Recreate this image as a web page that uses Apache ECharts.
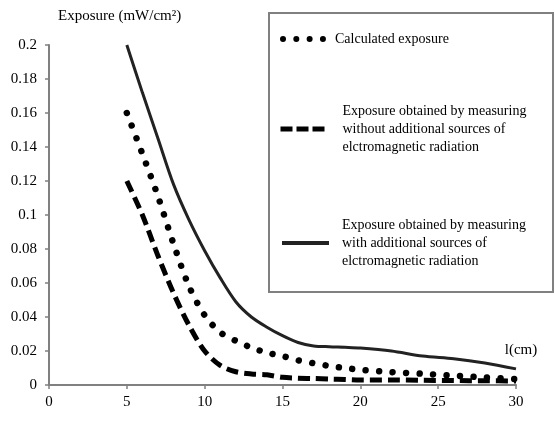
<!DOCTYPE html>
<html>
<head>
<meta charset="utf-8">
<script src="https://cdn.jsdelivr.net/npm/echarts@6/dist/echarts.min.js"></script>
<style>
  html, body { margin: 0; padding: 0; background: #fff; }
  #chart { width: 555px; height: 421px; }
</style>
</head>
<body>
<div id="chart"></div>
<script>
// distance l (cm)
const distances = [5, 6, 7, 8, 9, 10, 11, 12, 13, 14, 15, 16, 17, 18, 19, 20, 22, 24, 26, 28, 30];
// exposure (mW/cm2)
const calculated = [0.16, 0.136, 0.111, 0.083, 0.058, 0.041, 0.031, 0.026, 0.022, 0.019, 0.017, 0.0145, 0.0128, 0.0112, 0.010, 0.009, 0.0076, 0.0066, 0.0055, 0.0045, 0.0035];
const measuredWithout = [0.12, 0.1, 0.076, 0.054, 0.035, 0.02, 0.0115, 0.0078, 0.0065, 0.006, 0.0045, 0.004, 0.0038, 0.0035, 0.0033, 0.003, 0.003, 0.0028, 0.0026, 0.0025, 0.0024];
const measuredWith = [0.2, 0.172, 0.145, 0.118, 0.097, 0.079, 0.063, 0.049, 0.040, 0.034, 0.029, 0.025, 0.023, 0.0225, 0.0222, 0.0218, 0.020, 0.017, 0.0155, 0.013, 0.0095];

const seriesNames = [
  'Calculated exposure',
  'Exposure obtained by measuring\nwithout additional sources of\nelctromagnetic radiation',
  'Exposure obtained by measuring\nwith additional sources of\nelctromagnetic radiation'
];

const FONT = 'Liberation Serif';
const chart = echarts.init(document.getElementById('chart'), null, { renderer: 'canvas' });

const pairs = vals => distances.map((d, i) => [d, vals[i]]);

const legendText = { fontFamily: FONT, fontSize: 14, color: '#000', lineHeight: 18 };

chart.setOption({
  animation: false,
  backgroundColor: '#fff',
  grid: { left: 49, right: 39, top: 45, bottom: 36 },
  xAxis: {
    type: 'value',
    min: 0,
    max: 30,
    interval: 5,
    name: 'l(cm)',
    nameLocation: 'end',
    nameGap: 5,
    nameTextStyle: {
      fontFamily: FONT, fontSize: 15, color: '#000',
      align: 'center', verticalAlign: 'bottom', padding: [0, 0, 27, 0]
    },
    axisLine: { show: true, lineStyle: { color: '#808080', width: 2 } },
    axisTick: { show: true, length: 4, lineStyle: { color: '#808080', width: 1.5 } },
    axisLabel: { fontFamily: FONT, fontSize: 15, color: '#000', margin: 10 },
    splitLine: { show: false }
  },
  yAxis: {
    type: 'value',
    min: 0,
    max: 0.2,
    interval: 0.02,
    name: 'Exposure (mW/cm²)',
    nameLocation: 'end',
    nameGap: 21,
    nameTextStyle: {
      fontFamily: FONT, fontSize: 15, color: '#000',
      align: 'left', padding: [0, 0, 0, 9]
    },
    axisLine: { show: true, lineStyle: { color: '#808080', width: 2 } },
    axisTick: { show: true, length: 4, lineStyle: { color: '#808080', width: 1.5 } },
    axisLabel: { fontFamily: FONT, fontSize: 15, color: '#000', margin: 12 },
    splitLine: { show: false }
  },
  legend: [
    {
      data: [seriesNames[0]],
      left: 280, top: 30, padding: 0,
      itemWidth: 47, itemHeight: 14,
      selectedMode: false,
      textStyle: legendText,
      itemStyle: { opacity: 0 },
      lineStyle: { width: 6, type: [0.01, 13.3], cap: 'round', color: '#000' }
    },
    {
      data: [seriesNames[1]],
      left: 278, top: 102, padding: 0,
      itemWidth: 45, itemHeight: 14,
      selectedMode: false,
      textStyle: Object.assign({ padding: [0, 0, 0, 12] }, legendText),
      itemStyle: { opacity: 0 },
      lineStyle: { width: 5, type: [12, 4], color: '#000' }
    },
    {
      data: [seriesNames[2]],
      left: 280, top: 201, padding: 0,
      itemWidth: 47, itemHeight: 14,
      selectedMode: false,
      textStyle: Object.assign({ padding: [30, 0, 0, 8] }, legendText),
      itemStyle: { opacity: 0 },
      lineStyle: { width: 4, type: 'solid', color: '#222' }
    }
  ],
  graphic: [
    {
      type: 'rect',
      shape: { x: 269, y: 13, width: 284, height: 279 },
      style: { fill: 'none', stroke: '#808080', lineWidth: 2 },
      z: 0
    }
  ],
  series: [
    {
      name: seriesNames[0],
      type: 'line',
      data: pairs(calculated),
      smooth: 0.3,
      symbol: 'none',
      lineStyle: { color: '#000', width: 6.5, type: [0.01, 13.5], cap: 'round' }
    },
    {
      name: seriesNames[1],
      type: 'line',
      data: pairs(measuredWithout),
      smooth: 0.3,
      symbol: 'none',
      lineStyle: { color: '#000', width: 5, type: [12, 6] }
    },
    {
      name: seriesNames[2],
      type: 'line',
      data: pairs(measuredWith),
      smooth: 0.3,
      symbol: 'none',
      lineStyle: { color: '#222', width: 3 }
    }
  ]
});
</script>
</body>
</html>
